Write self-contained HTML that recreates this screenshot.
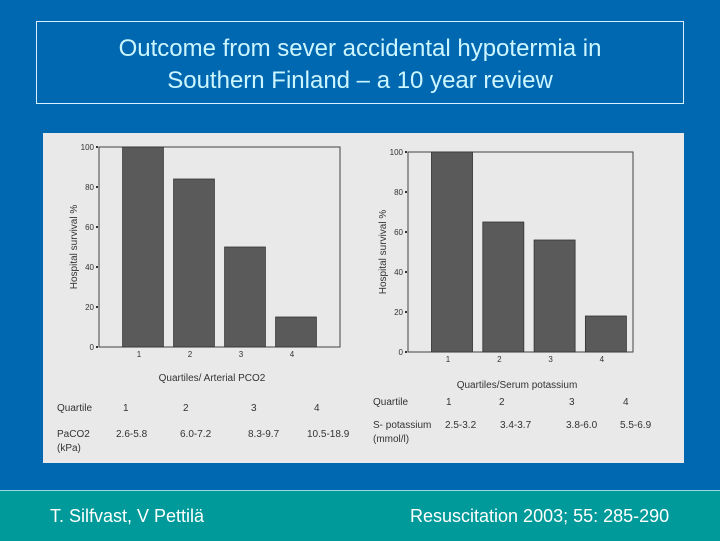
<!DOCTYPE html>
<html><head><meta charset="utf-8"><style>
html,body{margin:0;padding:0;}
body{width:720px;height:540px;position:relative;overflow:hidden;background:#0068b0;font-family:"Liberation Sans",sans-serif;}
#title{position:absolute;left:36px;top:21px;width:648px;height:83px;border:1px solid #d8f0ff;box-sizing:border-box;color:#ccf6ff;font-size:24px;line-height:32px;text-align:center;padding-top:11px;}
#footer{position:absolute;left:0;top:490px;width:720px;height:50px;background:#009a9a;border-top:1px solid #9fd8e0;color:#fff;font-size:18px;}
#scan{position:absolute;left:43px;top:133px;}
</style></head><body>
<div id="title">Outcome from sever accidental hypotermia in<br>Southern Finland – a 10 year review</div>
<svg id="scan" width="641" height="330" viewBox="43 133 641 330" font-family="Liberation Sans, sans-serif" font-size="10" fill="#333"></svg>
<div id="footer">
<span style="position:absolute;left:50px;top:15px;">T. Silfvast, V Pettilä</span>
<span style="position:absolute;left:410px;top:15px;">Resuscitation 2003; 55: 285-290</span>
</div>
<script>
const categories=["1","2","3","4"];
const pco2Values=[100,84,50,15];
const potassiumValues=[100,65,56,18];
const yTicks=[0,20,40,60,80,100];
const pco2Ranges=["2.6-5.8","6.0-7.2","8.3-9.7","10.5-18.9"];
const potassiumRanges=["2.5-3.2","3.4-3.7","3.8-6.0","5.5-6.9"];
const NS="http://www.w3.org/2000/svg";
const svg=document.getElementById('scan');
function mk(tag,attrs,parent){const e=document.createElementNS(NS,tag);for(const k in attrs)e.setAttribute(k,attrs[k]);(parent||svg).appendChild(e);return e;}
function txt(x,y,s,anchor,parent,extra){const t=mk('text',Object.assign({x:x,y:y,'text-anchor':anchor||'start'},extra||{}),parent);t.textContent=s;return t;}
const bg=mk('rect',{x:43,y:133,width:641,height:330,fill:'#e9e9e9'});


function chart(cfg){
  const g=mk('g',{});
  
  
  const yScale=v=>cfg.y0-(cfg.y0-cfg.y1)*v/100;
  const xScale=i=>cfg.c0+cfg.step*i;
  const bw=cfg.step*0.8;
  const frame=mk('rect',{x:cfg.x0,y:cfg.y1,width:cfg.x1-cfg.x0,height:cfg.y0-cfg.y1,fill:'none',stroke:'#444','stroke-width':1},g);
  
  
  yTicks.forEach(t=>{
    const l=txt(cfg.x0-5,yScale(t)+3,String(t),'end',g,{'font-size':8});
    
    
    mk('rect',{x:cfg.x0-3,y:yScale(t)-1,width:2,height:2,fill:'#333'},g);
  });
  cfg.values.forEach((v,i)=>{
    const b=mk('rect',{x:xScale(i)-bw/2,y:yScale(v),width:bw,height:yScale(0)-yScale(v),fill:'#5a5a5a',stroke:'#333','stroke-width':0.8},g);
    
    
    const tl=txt(xScale(i)-4,cfg.y0+10,categories[i],'middle',g,{'font-size':8});
    
    
  });
  const yt=txt(0,0,'Hospital survival %','middle',g,{transform:'translate('+cfg.yTitleX+','+((cfg.y0+cfg.y1)/2)+') rotate(-90)'});
  
  
  const xt=txt(cfg.xTitleX,cfg.xTitleY,cfg.xTitle,'middle',g);
  
  
  const q=txt(cfg.labelX,cfg.qY,'Quartile','start',g);
  
  
  const r=txt(cfg.labelX,cfg.rY,cfg.rowLabel,'start',g);
  
  
  const u=txt(cfg.labelX,cfg.rY+14,cfg.unit,'start',g);
  
  
  categories.forEach((c,i)=>{
    const a=txt(cfg.qX[i],cfg.qY,c,'start',g);
    
    
    const b=txt(cfg.rX[i],cfg.rY,cfg.ranges[i],'start',g);
    
    
  });
}
chart({name:'pco2-chart',x0:99,x1:340,y0:347,y1:147,c0:143,step:51,values:pco2Values,yTitleX:77,xTitleX:212,xTitle:'Quartiles/ Arterial PCO2',xTitleY:381,labelX:57,qY:411,rY:437,rowLabel:'PaCO2',unit:'(kPa)',qX:[123,183,251,314],rX:[116,180,248,307],ranges:pco2Ranges});
chart({name:'potassium-chart',x0:408,x1:633,y0:352,y1:152,c0:452,step:51.3,values:potassiumValues,yTitleX:386,xTitleX:517,xTitle:'Quartiles/Serum potassium',xTitleY:388,labelX:373,qY:405,rY:428,rowLabel:'S- potassium',unit:'(mmol/l)',qX:[446,499,569,623],rX:[445,500,566,620],ranges:potassiumRanges});
</script>
</body></html>
